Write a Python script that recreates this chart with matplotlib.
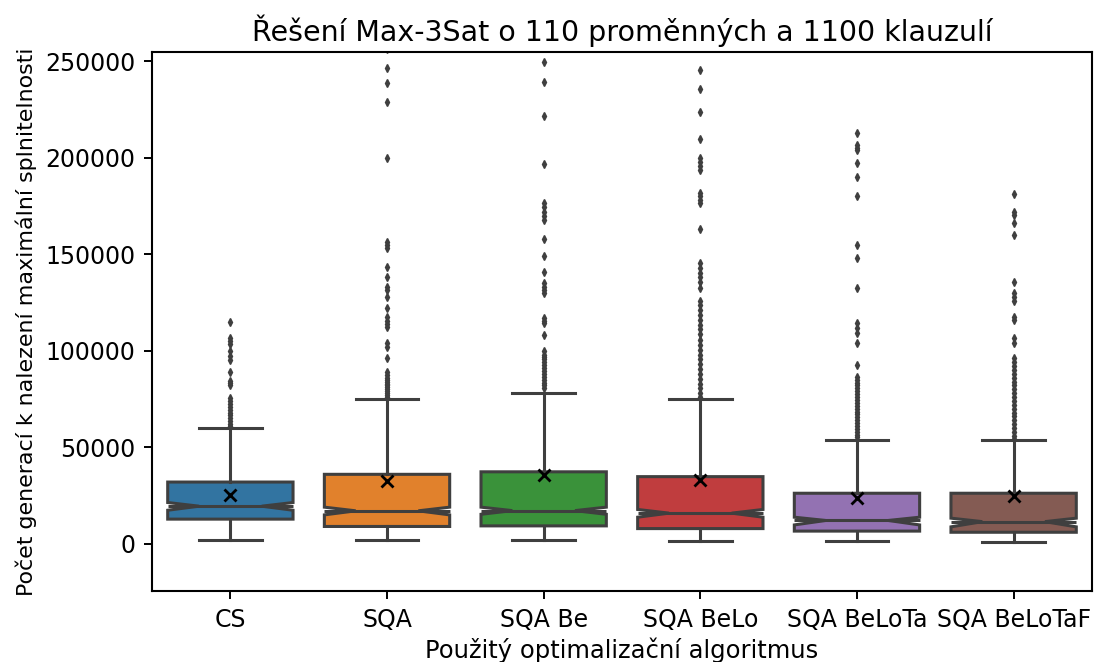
import matplotlib
matplotlib.use("Agg")
import matplotlib.pyplot as plt

labels = ['CS', 'SQA', 'SQA Be', 'SQA BeLo', 'SQA BeLoTa', 'SQA BeLoTaF']
colors = ['#3274a1', '#e1812c', '#3a923a', '#c03d3e', '#9372b2', '#845b53']

# box stats
whislo = [2200, 2000, 2200, 1700, 1700, 1000]
q1 = [12800, 9000, 9300, 7900, 6600, 6000]
med = [19500, 17100, 17200, 15900, 12100, 11500]
q3 = [32000, 36000, 37300, 34800, 26200, 26200]
whishi = [60200, 75200, 78300, 74900, 53800, 53800]
mean = [25400, 32600, 35700, 33000, 23700, 24900]
cilo = [17400, 15000, 15300, 13800, 9800, 8800]
cihi = [21400, 19000, 19000, 17800, 13800, 13300]

fliers_cs = [115000, 106500, 105000, 103500, 100000, 97500, 95000, 89200, 84500,
             83500, 82300, 75500, 74000, 72500, 71000, 69500, 68000, 66500, 65000,
             63500, 62000, 61000]
fliers_sqa = [256000, 246200, 238800, 228900, 199950, 156500, 154800, 153000, 143500,
              138400, 133000, 131500, 127700, 122300, 117600, 115500, 114000, 112500,
              104000, 102000, 96000, 89000, 87500, 86000, 85000, 84000, 83000, 82000,
              81000, 80000, 79000, 78000, 77000, 76000]
fliers_be = [249600, 239300, 221500, 196500, 176500, 174500, 172000, 169800, 167700,
             157700, 149000, 140900, 135000, 133000, 131500, 130000, 117000, 115500,
             114400, 108200, 100000, 98000, 97000, 95500, 94000, 92500, 91000, 89500,
             88000, 86500, 85000, 83500, 82000, 80700]
fliers_belo = [245600, 235300, 223400, 209500, 199800, 197500, 195500, 193600, 181800,
               180000, 178000, 176300, 163000, 145600, 143000, 140500, 138000, 135500,
               132300, 126000, 123500, 121000, 118500, 116000, 113500, 111000, 108500,
               105600, 103000, 100500, 98000, 95500, 93000, 90500, 88000, 85500, 83000,
               80500, 78000, 76000]
fliers_beloTa = [212900, 206500, 205000, 204000, 197400, 189800, 180100, 154800, 148200,
                 132300, 114400, 112000, 109200, 103900, 92600, 86600, 85000, 83500,
                 82000, 80500, 79000, 77500, 76000, 74500, 73000, 71500, 70000, 68500,
                 67000, 65500, 64000, 62500, 61000, 59500, 58000, 56500, 55500]
fliers_beloTaF = [181200, 172000, 170500, 166000, 160000, 135800, 130000, 128000, 126000,
                  117600, 116000, 106600, 104000, 96000, 94000, 92000, 90000, 88000,
                  86000, 84000, 82000, 80000, 78000, 76000, 74000, 72000, 70000, 68000,
                  66000, 64000, 62000, 60000, 58000, 56000, 54500]
fliers = [fliers_cs, fliers_sqa, fliers_be, fliers_belo, fliers_beloTa, fliers_beloTaF]

stats = []
for i in range(len(labels)):
    stats.append(dict(label=labels[i], whislo=whislo[i], q1=q1[i], med=med[i], q3=q3[i],
                      whishi=whishi[i], mean=mean[i], cilo=cilo[i], cihi=cihi[i],
                      fliers=fliers[i]))

gray = '#3f3f3f'
lw = 2.2
width = 0.8
fig = plt.figure(figsize=(10.97, 6.62), dpi=100)
ax = fig.add_axes([0.1386, 0.1073, 0.8568, 0.8142])
bp = ax.bxp(stats, positions=range(len(labels)), widths=width, shownotches=True,
            showmeans=True, patch_artist=True,
            boxprops=dict(edgecolor=gray, linewidth=lw),
            whiskerprops=dict(color=gray, linewidth=lw),
            capprops=dict(color=gray, linewidth=lw),
            medianprops=dict(color=gray, linewidth=lw),
            meanprops=dict(marker='x', markeredgecolor='black', markersize=9, markeredgewidth=2),
            flierprops=dict(marker='d', markerfacecolor=gray, markeredgecolor=gray, markersize=4))
for patch, c in zip(bp['boxes'], colors):
    patch.set_facecolor(c)
# median line across the whole box
for i, line in enumerate(bp['medians']):
    line.set_xdata([i - width / 2, i + width / 2])

ax.set_xlim(-0.5, 5.5)
ax.set_ylim(-24400, 254700)
ax.set_yticks([0, 50000, 100000, 150000, 200000, 250000])
ax.tick_params(labelsize=17, length=6, width=1.4, pad=6)
ax.set_title('Řešení Max-3Sat o 110 proměnných a 1100 klauzulí', fontsize=20.5, pad=8)
ax.set_xlabel('Použitý optimalizační algoritmus', fontsize=17.5, labelpad=4)
ax.set_ylabel('Počet generací k nalezení maximální splnitelnosti', fontsize=15.9, labelpad=6)
for s in ax.spines.values():
    s.set_linewidth(1.5)

plt.savefig('out.png', dpi=100)
